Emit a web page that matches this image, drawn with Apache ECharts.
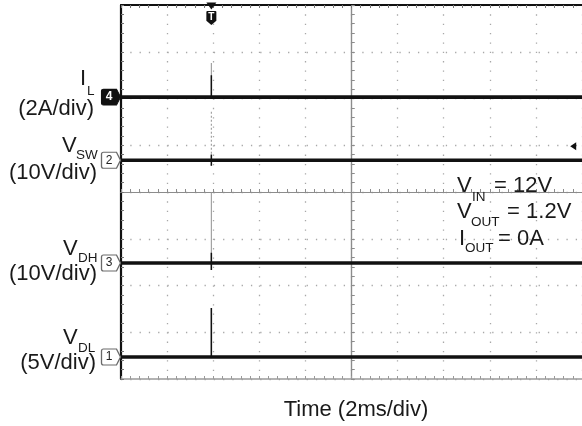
<!DOCTYPE html>
<html>
<head>
<meta charset="utf-8">
<script src="https://cdn.jsdelivr.net/npm/echarts@6.0.0/dist/echarts.min.js"></script>
<style>
html,body{margin:0;padding:0;background:#fff;}
#chart{width:582px;height:426px;}
</style>
</head>
<body>
<div id="chart"></div>
<script>
// ---- data (in scope divisions) ----
const channelNames = ['I_L', 'V_SW', 'V_DH', 'V_DL'];
const channelBadges = ['4', '2', '3', '1'];
const channelScales = ['(2A/div)', '(10V/div)', '(10V/div)', '(5V/div)'];
const traceLevels = [6.03, 4.68, 2.48, 0.47];
const triggerTime = 1.96;
const spikeLow = [6.03, 4.56, 2.33, 0.47];
const spikeFaintTop = [6.76, 5.75, 3.99, 1.52];
const spikeSolidTop = [6.50, 4.80, 2.70, 1.52];
const timeRange = [0, 10];
const divRange = [0, 8];
const triggerLevel = [9.83, 4.98];
const conditions = [['V', 'IN', ' = 12V'], ['V', 'OUT', ' = 1.2V'], ['I', 'OUT', ' = 0A']];
const xAxisTitle = 'Time (2ms/div)';

const FONT = '"Liberation Sans", Arial, Helvetica, sans-serif';
const INK = '#1a1a1a';

const chart = echarts.init(document.getElementById('chart'), null, {renderer: 'canvas'});

const gridRect = {left: 121, top: 5, width: 464, height: 374};

function baseTicks(inside, color) {
  return {
    axisTick: {show: true, inside: inside, length: 3, lineStyle: {color: color, width: 1}},
    minorTick: {show: true, splitNumber: 5, length: 3, lineStyle: {color: color, width: 1}},
    axisLabel: {show: false}
  };
}

const xAxes = [
  Object.assign({
    gridIndex: 0, type: 'value', min: timeRange[0], max: timeRange[1], interval: 1, position: 'bottom',
    axisLine: {show: true, onZero: false, lineStyle: {color: '#9a9a9a', width: 1.5}},
    splitLine: {show: true, lineStyle: {color: '#a8a8a8', width: 1.3, type: [1.3, 8.05]}}
  }, baseTicks(true, '#9a9a9a')),
  Object.assign({
    gridIndex: 0, type: 'value', min: timeRange[0], max: timeRange[1], interval: 1, position: 'top',
    axisLine: {show: true, onZero: false, lineStyle: {color: '#111', width: 2}},
    splitLine: {show: false}
  }, baseTicks(true, '#777')),
  Object.assign({
    gridIndex: 1, type: 'value', min: -5, max: 5, interval: 1,
    axisLine: {show: true, onZero: true, onZeroAxisIndex: 1, lineStyle: {color: '#8c8c8c', width: 1.2}},
    splitLine: {show: false}
  }, baseTicks(true, '#8c8c8c')),
  Object.assign({
    gridIndex: 1, type: 'value', min: -5, max: 5, interval: 1,
    axisLine: {show: true, onZero: true, onZeroAxisIndex: 1, lineStyle: {color: '#8c8c8c', width: 1.2}},
    splitLine: {show: false}
  }, baseTicks(false, '#8c8c8c'))
];

const yAxes = [
  Object.assign({
    gridIndex: 0, type: 'value', min: divRange[0], max: divRange[1], interval: 1, position: 'left',
    axisLine: {show: true, onZero: false, lineStyle: {color: '#111', width: 2.2}},
    splitLine: {show: true, lineStyle: {color: '#a8a8a8', width: 1.3, type: [1.3, 7.98]}}
  }, baseTicks(true, '#777')),
  Object.assign({
    gridIndex: 1, type: 'value', min: -4, max: 4, interval: 1,
    axisLine: {show: true, onZero: true, onZeroAxisIndex: 2, lineStyle: {color: '#8c8c8c', width: 1.2}},
    splitLine: {show: false}
  }, baseTicks(true, '#8c8c8c')),
  Object.assign({
    gridIndex: 1, type: 'value', min: -4, max: 4, interval: 1,
    axisLine: {show: true, onZero: true, onZeroAxisIndex: 2, lineStyle: {color: '#8c8c8c', width: 1.2}},
    splitLine: {show: false}
  }, baseTicks(false, '#8c8c8c'))
];

const badgePath = 'path://M2,0 L15,0 L19,8 L15,16 L2,16 Q0,16 0,14 L0,2 Q0,0 2,0 Z';

const series = [];
channelNames.forEach(function (name, i) {
  const lv = traceLevels[i];
  const filled = i === 0;
  series.push({
    name: name, type: 'line', xAxisIndex: 0, yAxisIndex: 0, silent: true,
    symbol: 'none', z: 5,
    lineStyle: {color: '#111', width: 3.6},
    data: [[timeRange[0], lv], [timeRange[1], lv]],
    markPoint: {
      silent: true,
      symbol: badgePath, symbolSize: [19, 16], symbolOffset: [-10, 0],
      itemStyle: filled ? {color: '#111', borderColor: '#111', borderWidth: 1}
                        : {color: '#fff', borderColor: '#6a6a6a', borderWidth: 1.2},
      label: {show: true, formatter: channelBadges[i], color: filled ? '#fff' : '#222',
              fontFamily: FONT, fontSize: 12, fontWeight: filled ? 'bold' : 'normal', offset: [-2, 0]},
      data: [{coord: [timeRange[0], lv]}]
    }
  });
  series.push({
    type: 'line', xAxisIndex: 0, yAxisIndex: 0, silent: true, symbol: 'none', z: 4,
    lineStyle: {color: '#9a9a9a', width: 1.1, type: i === 1 ? [2, 2] : 'solid'},
    data: [[triggerTime, spikeLow[i]], [triggerTime, spikeFaintTop[i]]]
  });
  series.push({
    type: 'line', xAxisIndex: 0, yAxisIndex: 0, silent: true, symbol: 'none', z: 6,
    lineStyle: {color: '#111', width: 1.5},
    data: [[triggerTime, spikeLow[i]], [triggerTime, spikeSolidTop[i]]]
  });
});

// trigger markers
series.push({
  type: 'line', xAxisIndex: 0, yAxisIndex: 0, silent: true, symbol: 'none', z: 7,
  lineStyle: {opacity: 0}, data: [],
  markPoint: {
    silent: true,
    data: [
      {coord: [triggerTime, divRange[1]], symbol: 'triangle', symbolRotate: 180, symbolSize: [10, 7],
       symbolOffset: [0, 1], itemStyle: {color: '#111'}, label: {show: false}},
      {coord: [triggerTime, divRange[1]], symbol: 'path://M1,0 L9,0 Q10,0 10,1 L10,9 L5,13 L0,9 L0,1 Q0,0 1,0 Z',
       symbolSize: [10, 14], symbolOffset: [0, 13], itemStyle: {color: '#111'},
       label: {show: true, formatter: 'T', color: '#fff', fontSize: 10, fontWeight: 'bold', fontFamily: FONT, offset: [0, -1]}},
      {coord: triggerLevel, symbol: 'path://M0,4 L6,0 L6,8 Z', symbolSize: [6, 8], symbolOffset: [-1, 0],
       itemStyle: {color: '#111'}, label: {show: false}}
    ]
  }
});

// text labels
function txt(x, y, text, size, align) {
  return {type: 'text', x: x, y: y, silent: true, z: 100,
    style: {text: text, fill: INK, font: size + 'px ' + FONT, textAlign: align || 'left', textVerticalAlign: 'middle'}};
}
const graphics = [];
// left channel labels: [mainLetter, subscript]
const mainPos = [[86, 79, 'right'], [62, 145.5, 'left'], [63, 248.5, 'left'], [63, 337.5, 'left']];
const subPos = [[87, 91], [76, 155.5], [78, 258.5], [78, 348]];
const scalePos = [[94, 108.5], [97, 173], [97, 274], [96, 363]];
channelNames.forEach(function (name, i) {
  const parts = name.split('_');
  graphics.push(txt(mainPos[i][0], mainPos[i][1], parts[0], 22, mainPos[i][2]));
  graphics.push(txt(subPos[i][0], subPos[i][1], parts[1], 13.5, 'left'));
  graphics.push(txt(scalePos[i][0], scalePos[i][1], channelScales[i], 22, 'right'));
});
// conditions
const condMain = [[457, 185.5], [457, 212], [459, 238.5]];
const condSub = [[472, 197], [471, 222], [465, 248]];
const condRest = [[488, 185.5], [501, 212], [492, 238.5]];
conditions.forEach(function (c, i) {
  graphics.push(txt(condMain[i][0], condMain[i][1], c[0], 22, 'left'));
  graphics.push(txt(condSub[i][0], condSub[i][1], c[1], 13.5, 'left'));
  graphics.push(txt(condRest[i][0], condRest[i][1], c[2], 22, 'left'));
});
graphics.push(txt(356, 410, xAxisTitle, 22, 'center'));

chart.setOption({
  animation: false,
  backgroundColor: '#fff',
  grid: [Object.assign({show: false}, gridRect), Object.assign({show: false}, gridRect)],
  xAxis: xAxes,
  yAxis: yAxes,
  series: series,
  graphic: graphics
});
</script>
</body>
</html>
